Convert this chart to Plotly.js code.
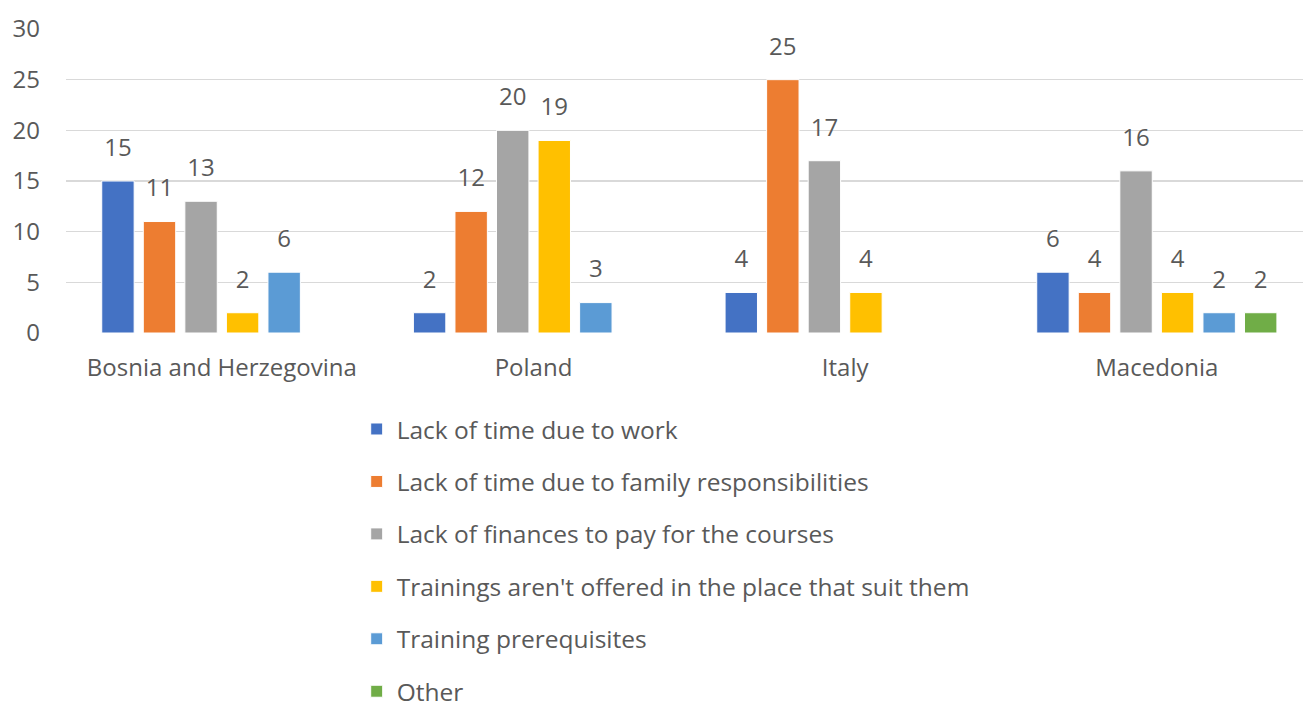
<!DOCTYPE html>
<html>
<head>
<meta charset="utf-8">
<script src="https://cdn.plot.ly/plotly-3.0.1.min.js"></script>
<style>html,body{margin:0;padding:0;background:#fff;}#chart{width:1303px;height:706px;}</style>
</head>
<body>
<div id="chart"></div>
<script>
var countries = ["Bosnia and Herzegovina", "Poland", "Italy", "Macedonia"];
var seriesNames = [
  "Lack of time due to work",
  "Lack of time due to family responsibilities",
  "Lack of finances to pay for the courses",
  "Trainings aren't offered in the place that suit them",
  "Training prerequisites",
  "Other"
];
var lackWork = [15, 2, 4, 6];
var lackFamily = [11, 12, 25, 4];
var lackFinances = [13, 20, 17, 16];
var notOffered = [2, 19, 4, 4];
var prerequisites = [6, 3, null, 2];
var other = [null, null, null, 2];
var colors = ["#4472C4", "#ED7D31", "#A5A5A5", "#FFC000", "#5B9BD5", "#70AD47"];

var allSeries = [lackWork, lackFamily, lackFinances, notOffered, prerequisites, other];
var FONT = "Open Sans, sans-serif";
var TXT = "#595959";

var traces = [];
allSeries.forEach(function (vals, i) {
  traces.push({
    type: "bar",
    name: seriesNames[i],
    x: countries,
    y: vals,
    marker: {color: colors[i], line: {color: "#ffffff", width: 1}},
    offsetgroup: "g" + i,
    legendgroup: "g" + i,
    hoverinfo: "skip"
  });
});
allSeries.forEach(function (vals, i) {
  traces.push({
    type: "scatter",
    mode: "markers+text",
    x: countries,
    y: vals,
    text: vals.map(function (v) { return v === null ? "" : String(v); }),
    textposition: "top center",
    textfont: {family: FONT, size: 24, color: TXT},
    marker: {size: 29, opacity: 0},
    offsetgroup: "g" + i,
    showlegend: false,
    cliponaxis: false,
    hoverinfo: "skip"
  });
});

var layout = {
  width: 1303,
  height: 706,
  paper_bgcolor: "#ffffff",
  plot_bgcolor: "#ffffff",
  font: {family: FONT, size: 24, color: TXT},
  margin: {l: 66, r: 0, t: 29, b: 373, autoexpand: false},
  barmode: "group",
  bargap: 0.2,
  bargroupgap: 0.22,
  scattermode: "group",
  scattergap: 0.2,
  showlegend: true,
  xaxis: {
    type: "category",
    range: [-0.5, 3.469],
    showgrid: false,
    zeroline: false,
    showline: false,
    ticks: "",
    tickangle: 0,
    automargin: false,
    ticklabelstandoff: 18,
    tickfont: {family: FONT, size: 24, color: TXT},
    fixedrange: true
  },
  yaxis: {
    range: [0, 30],
    dtick: 5,
    showgrid: true,
    gridcolor: "#D9D9D9",
    gridwidth: 1.5,
    zeroline: false,
    showline: false,
    ticks: "",
    automargin: false,
    ticklabelstandoff: 25,
    tickfont: {family: FONT, size: 24, color: TXT},
    fixedrange: true
  },
  legend: {
    orientation: "v",
    x: 0.235,
    y: -0.242,
    xanchor: "left",
    yanchor: "top",
    traceorder: "grouped",
    tracegroupgap: 17.6,
    font: {family: FONT, size: 24.5, color: TXT},
    bgcolor: "rgba(0,0,0,0)"
  }
};

Plotly.newPlot("chart", traces, layout, {displayModeBar: false, staticPlot: true});
</script>
</body>
</html>
